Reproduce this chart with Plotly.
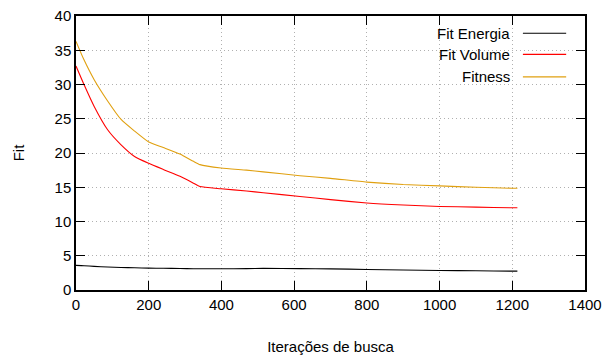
import plotly.graph_objects as go

# Data
x_iter = [0, 22, 50, 87, 124, 161, 200, 240, 286, 323, 341, 399, 469, 515, 616, 700, 800, 900, 1000, 1100, 1200, 1214]
fit_energia = [3.6, 3.55, 3.45, 3.35, 3.28, 3.24, 3.2, 3.17, 3.13, 3.1, 3.1, 3.1, 3.12, 3.15, 3.12, 3.08, 3.0, 2.92, 2.85, 2.8, 2.75, 2.75]
fit_volume = [32.7, 30.0, 26.8, 23.4, 21.2, 19.5, 18.5, 17.6, 16.6, 15.6, 15.1, 14.78, 14.45, 14.2, 13.66, 13.2, 12.7, 12.4, 12.2, 12.1, 12.0, 12.0]
fitness = [36.3, 33.6, 30.7, 27.6, 24.9, 23.2, 21.6, 20.8, 19.85, 18.78, 18.3, 17.8, 17.5, 17.25, 16.68, 16.3, 15.75, 15.4, 15.2, 15.0, 14.85, 14.85]

series_names = ["Fit Energia", "Fit Volume", "Fitness"]
series_vals = [fit_energia, fit_volume, fitness]
series_colors = ["#000000", "#ff0000", "#e0a010"]

x_ticks = [0, 200, 400, 600, 800, 1000, 1200, 1400]
y_ticks = [0, 5, 10, 15, 20, 25, 30, 35, 40]

font_family = "Liberation Sans, Arial, sans-serif"
fs = 15

fig = go.Figure()
for name, vals, col in zip(series_names, series_vals, series_colors):
    fig.add_trace(go.Scatter(x=x_iter, y=vals, mode="lines", name=name,
                             line=dict(color=col, width=1.1, shape="spline", smoothing=0.5),
                             showlegend=False, hoverinfo="skip"))

# gnuplot-style legend (text right, sample line on the right)
leg_y = [0.937, 0.86, 0.778]
for name, col, yy in zip(series_names, series_colors, leg_y):
    fig.add_annotation(xref="paper", yref="paper", x=0.857, y=yy, text=name,
                       showarrow=False, xanchor="right", yanchor="middle",
                       font=dict(family=font_family, size=fs, color="#000"))
    fig.add_shape(type="line", xref="paper", yref="paper", x0=0.878, x1=0.963,
                  y0=yy, y1=yy, line=dict(color=col, width=1.1))

axis_common = dict(
    showline=True, linecolor="#000", linewidth=1.5, mirror="ticks",
    ticks="inside", ticklen=9, tickwidth=1.3, tickcolor="#000",
    showgrid=True, gridcolor="#b0b0b0", griddash="1px,3px", gridwidth=1,
    zeroline=False, automargin=False,
    tickfont=dict(family=font_family, size=fs, color="#000"),
)

fig.update_xaxes(range=[0, 1400], tickvals=x_ticks,
                 title=dict(text="Iterações de busca", standoff=30,
                            font=dict(family=font_family, size=fs, color="#000")),
                 **axis_common)
fig.update_yaxes(range=[0, 40], tickvals=y_ticks,
                 title=dict(text="Fit", standoff=26,
                            font=dict(family=font_family, size=fs, color="#000")),
                 **axis_common)

fig.update_layout(width=616, height=360,
                  margin=dict(l=76, r=31, t=16, b=70),
                  plot_bgcolor="white", paper_bgcolor="white",
                  showlegend=False)

fig.write_html("out.html", config={"displayModeBar": False},
               post_script="document.body.style.margin='0';")
